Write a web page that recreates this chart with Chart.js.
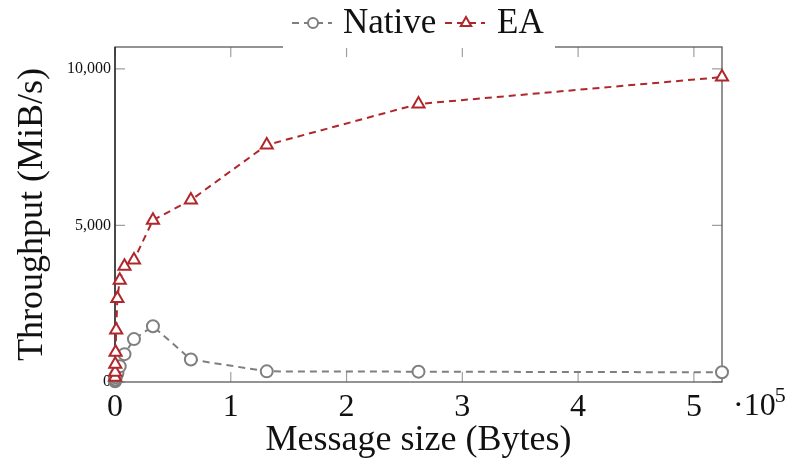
<!DOCTYPE html>
<html>
<head>
<meta charset="utf-8">
<script src="https://cdn.jsdelivr.net/npm/chart.js@4/dist/chart.umd.min.js"></script>
<style>
  html, body { margin: 0; padding: 0; background: #fff; }
  #c { display: block; }
</style>
</head>
<body>
<canvas id="c" width="787" height="470"></canvas>
<script>
// ---- data ----
const messageSizes = [64, 128, 256, 512, 1024, 2048, 4096, 8192, 16384, 32768, 65536, 131072, 262144, 524288];
const nativeThroughput = [20, 45, 80, 150, 220, 280, 500, 890, 1370, 1780, 720, 340, 330, 310];
const eaThroughput = [150, 310, 570, 950, 1660, 2670, 3250, 3700, 3900, 5170, 5810, 7570, 8880, 9740];
const seriesNames = ['Native', 'EA'];
const xTickValues = [0, 100000, 200000, 300000, 400000, 500000];
const yTickValues = [0, 5000, 10000];
const xTitle = 'Message size (Bytes)';
const yTitle = 'Throughput (MiB/s)';

const GRAY = '#7f7f7f';
const RED = '#b0272b';
const SERIF = '"Liberation Serif", "DejaVu Serif", serif';

const toPoints = (vals) => messageSizes.map((s, i) => ({ x: s, y: vals[i] }));

const framePlugin = {
  id: 'frame',
  beforeDatasetsDraw(chart) {
    const { ctx, chartArea: a, scales } = chart;
    ctx.save();
    ctx.strokeStyle = '#a0a0a0';
    ctx.lineWidth = 1.2;
    const L = 10;
    xTickValues.forEach(v => {
      const px = scales.x.getPixelForValue(v);
      ctx.beginPath();
      ctx.moveTo(px, a.bottom); ctx.lineTo(px, a.bottom - L);
      ctx.moveTo(px, a.top); ctx.lineTo(px, a.top + L);
      ctx.stroke();
    });
    yTickValues.forEach(v => {
      const py = scales.y.getPixelForValue(v);
      ctx.beginPath();
      ctx.moveTo(a.left, py); ctx.lineTo(a.left + L, py);
      ctx.moveTo(a.right, py); ctx.lineTo(a.right - L, py);
      ctx.stroke();
    });
    ctx.strokeStyle = '#5a5a5a';
    ctx.lineWidth = 1.3;
    ctx.strokeRect(a.left, a.top, a.right - a.left, a.bottom - a.top);
    ctx.strokeStyle = '#222';
    ctx.beginPath();
    ctx.moveTo(a.left, a.top); ctx.lineTo(a.left, a.bottom);
    ctx.stroke();
    ctx.restore();
  },
  afterDraw(chart) {
    const { ctx, chartArea: a } = chart;
    ctx.save();
    // exponent label
    ctx.fillStyle = '#111';
    ctx.textBaseline = 'alphabetic';
    ctx.textAlign = 'left';
    ctx.font = '32px ' + SERIF;
    ctx.fillText('\u00b710', a.right + 11, 415);
    const w = ctx.measureText('\u00b710').width;
    ctx.font = '22px ' + SERIF;
    ctx.fillText('5', a.right + 11 + w - 1, 402);

    // legend
    ctx.fillStyle = '#fff';
    ctx.fillRect(283, 0, 272, a.top + 1);
    const cy = 23;
    const items = [
      { x0: 292, color: GRAY, marker: 'circle', label: seriesNames[0], tx: 343 },
      { x0: 445, color: RED, marker: 'triangle', label: seriesNames[1], tx: 497 }
    ];
    items.forEach(it => {
      ctx.strokeStyle = it.color;
      ctx.lineWidth = 2;
      ctx.setLineDash([7, 5]);
      ctx.beginPath();
      ctx.moveTo(it.x0, cy); ctx.lineTo(it.x0 + 40, cy);
      ctx.stroke();
      ctx.setLineDash([]);
      const mx = it.x0 + 21;
      ctx.fillStyle = '#fff';
      ctx.beginPath();
      if (it.marker === 'circle') {
        ctx.arc(mx, cy, 5, 0, Math.PI * 2);
      } else {
        const r = 6;
        ctx.moveTo(mx, cy - r);
        ctx.lineTo(mx + r * Math.sin(2 * Math.PI / 3), cy - r * Math.cos(2 * Math.PI / 3));
        ctx.lineTo(mx + r * Math.sin(4 * Math.PI / 3), cy - r * Math.cos(4 * Math.PI / 3));
        ctx.closePath();
      }
      ctx.fill();
      ctx.stroke();
      ctx.fillStyle = '#111';
      ctx.font = '35px ' + SERIF;
      ctx.textBaseline = 'alphabetic';
      ctx.fillText(it.label, it.tx, 33);
    });
    ctx.restore();
  }
};

new Chart(document.getElementById('c'), {
  type: 'line',
  data: {
    datasets: [
      {
        label: seriesNames[0],
        data: toPoints(nativeThroughput),
        borderColor: GRAY,
        backgroundColor: '#fff',
        borderWidth: 2,
        borderDash: [7, 5],
        pointStyle: 'circle',
        pointRadius: 6,
        pointBorderWidth: 2,
        pointBackgroundColor: '#fff',
        pointBorderColor: GRAY,
        tension: 0,
        order: 1
      },
      {
        label: seriesNames[1],
        data: toPoints(eaThroughput),
        borderColor: RED,
        backgroundColor: '#fff',
        borderWidth: 2,
        borderDash: [7, 5],
        pointStyle: 'triangle',
        pointRadius: 7,
        pointBorderWidth: 2,
        pointBackgroundColor: '#fff',
        pointBorderColor: RED,
        tension: 0,
        order: 0
      }
    ]
  },
  options: {
    responsive: false,
    devicePixelRatio: 1,
    animation: false,
    clip: false,
    layout: { padding: { left: 0, right: 65, top: 47, bottom: 0 } },
    plugins: { legend: { display: false }, tooltip: { enabled: false } },
    scales: {
      x: {
        type: 'linear',
        min: 0,
        max: 524288,
        afterFit(s) { s.height = 88; },
        afterBuildTicks(s) { s.ticks = xTickValues.map(v => ({ value: v })); },
        grid: { display: false, drawTicks: false },
        border: { display: false },
        ticks: {
          padding: 6,
          color: '#111',
          font: { family: SERIF, size: 32 },
          callback: (v) => String(v / 100000)
        },
        title: {
          display: true,
          text: xTitle,
          color: '#111',
          font: { family: SERIF, size: 36 },
          padding: { top: 0, bottom: 8 }
        }
      },
      y: {
        type: 'linear',
        min: 0,
        max: 10700,
        afterFit(s) { s.width = 115; },
        afterBuildTicks(s) { s.ticks = yTickValues.map(v => ({ value: v })); },
        grid: { display: false, drawTicks: false },
        border: { display: false },
        ticks: {
          padding: 4,
          color: '#111',
          font: { family: SERIF, size: 16 },
          callback: (v) => v.toLocaleString('en-US')
        },
        title: {
          display: true,
          text: yTitle,
          color: '#111',
          font: { family: SERIF, size: 36 },
          padding: { top: 11, bottom: 0 }
        }
      }
    }
  },
  plugins: [framePlugin]
});
</script>
</body>
</html>
